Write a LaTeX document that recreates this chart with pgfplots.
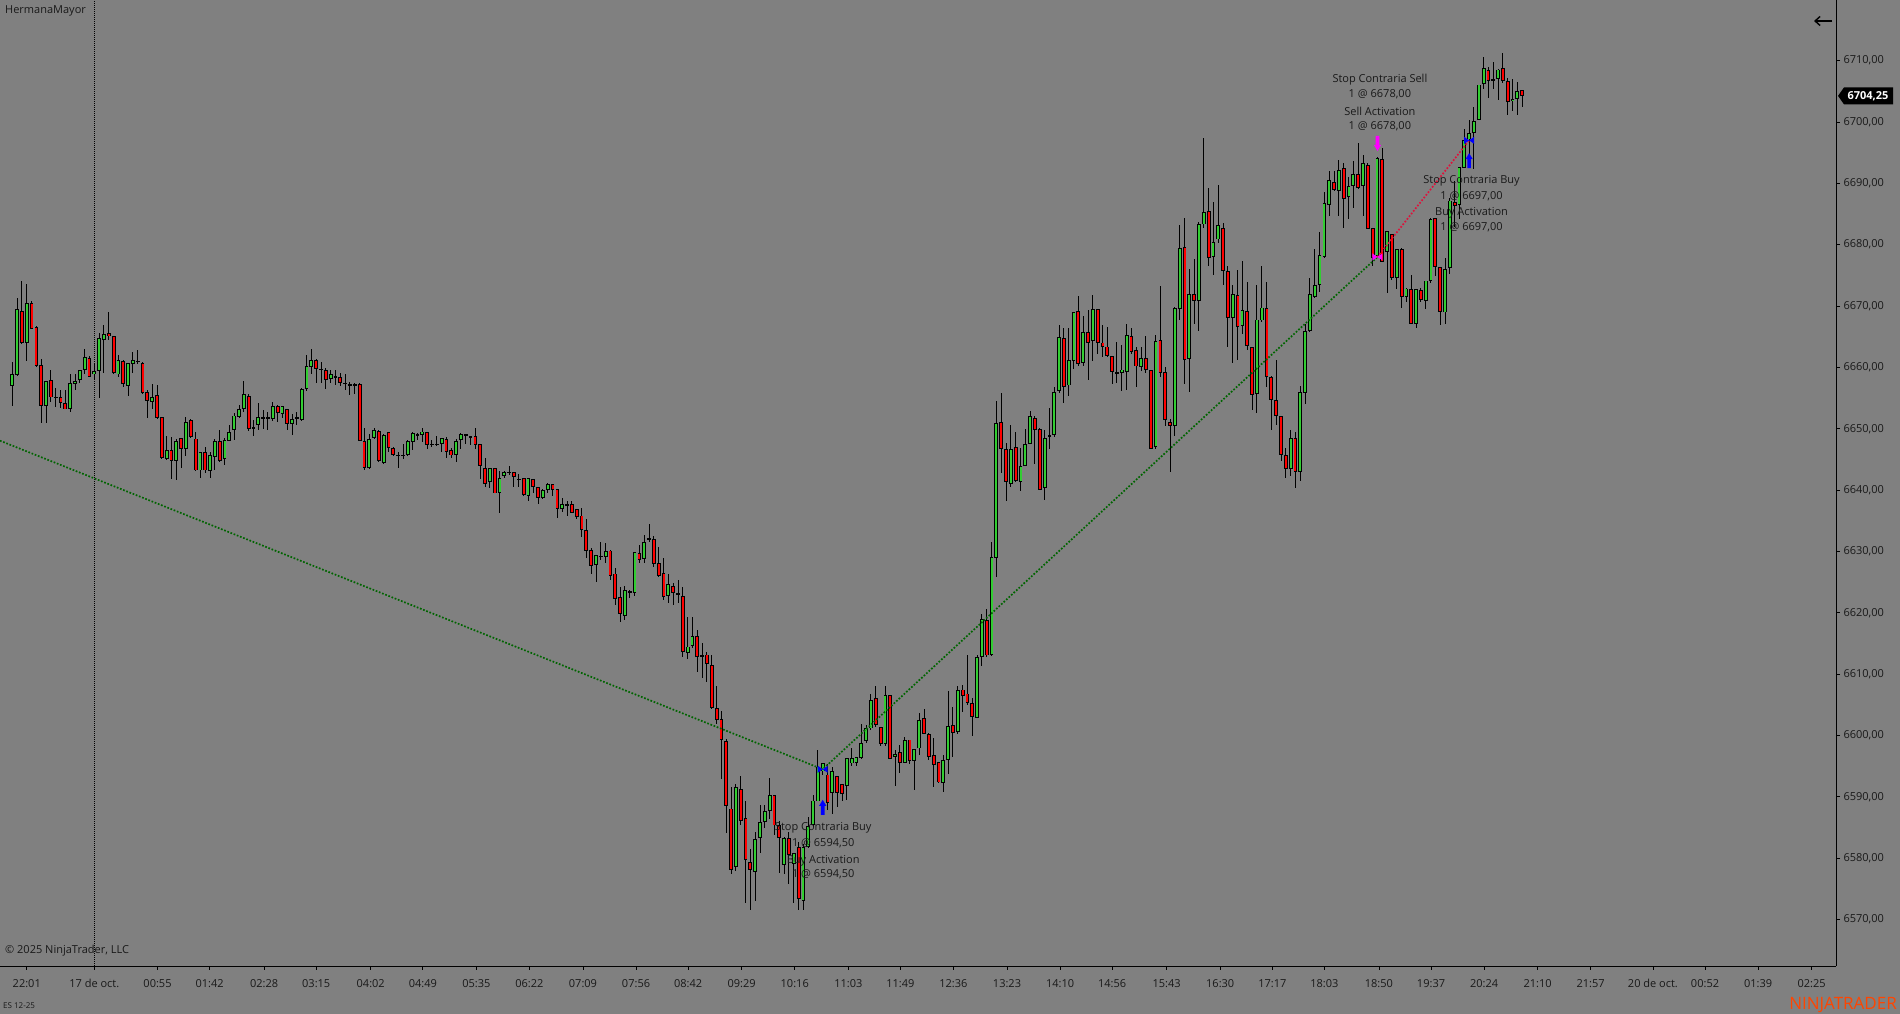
\documentclass[border=0pt]{standalone}
\usepackage{pgfplots}
\usepackage{pgfplotstable}
\pgfplotsset{compat=1.18}
\usepackage{fontspec}
\setmainfont{Open Sans}
\usetikzlibrary{arrows.meta}
\definecolor{bg}{RGB}{128,128,128}
\definecolor{upc}{RGB}{50,205,50}
\definecolor{dnc}{RGB}{255,0,0}
\definecolor{trgreen}{RGB}{0,100,0}
\definecolor{trred}{RGB}{220,20,60}
\definecolor{txt}{RGB}{25,25,25}
\definecolor{ntorange}{RGB}{255,69,0}
\definecolor{mag}{RGB}{255,0,255}
\pgfdeclareplotmark{bowtie}{%
 \pgfpathmoveto{\pgfqpoint{-5pt}{3.5pt}}\pgfpathlineto{\pgfqpoint{0pt}{0pt}}\pgfpathlineto{\pgfqpoint{-5pt}{-3.5pt}}\pgfpathclose
 \pgfpathmoveto{\pgfqpoint{5pt}{3.5pt}}\pgfpathlineto{\pgfqpoint{0pt}{0pt}}\pgfpathlineto{\pgfqpoint{5pt}{-3.5pt}}\pgfpathclose
 \pgfusepathqfill}
\pgfdeclareplotmark{arrup}{%
 \pgfpathmoveto{\pgfqpoint{0pt}{7.5pt}}\pgfpathlineto{\pgfqpoint{3.6pt}{1.5pt}}\pgfpathlineto{\pgfqpoint{1.8pt}{1.5pt}}
 \pgfpathlineto{\pgfqpoint{1.8pt}{-7.5pt}}\pgfpathlineto{\pgfqpoint{-1.8pt}{-7.5pt}}\pgfpathlineto{\pgfqpoint{-1.8pt}{1.5pt}}
 \pgfpathlineto{\pgfqpoint{-3.6pt}{1.5pt}}\pgfpathclose\pgfusepathqfill}
\pgfdeclareplotmark{arrdn}{%
 \pgfpathmoveto{\pgfqpoint{0pt}{-7.5pt}}\pgfpathlineto{\pgfqpoint{3.6pt}{-1.5pt}}\pgfpathlineto{\pgfqpoint{1.8pt}{-1.5pt}}
 \pgfpathlineto{\pgfqpoint{1.8pt}{7.5pt}}\pgfpathlineto{\pgfqpoint{-1.8pt}{7.5pt}}\pgfpathlineto{\pgfqpoint{-1.8pt}{-1.5pt}}
 \pgfpathlineto{\pgfqpoint{-3.6pt}{-1.5pt}}\pgfpathclose\pgfusepathqfill}
\pgfplotstableread{
i o h l c
0 6656.9 6661.0 6653.8 6658.9
1 6658.9 6671.3 6658.6 6669.6
2 6669.3 6674.2 6663.9 6664.1
3 6664.1 6673.7 6661.1 6670.6
4 6670.6 6670.8 6666.3 6666.3
5 6666.7 6666.7 6660.1 6660.3
6 6660.3 6661.5 6651.1 6653.6
7 6653.8 6657.9 6651.1 6657.9
8 6657.9 6659.6 6654.4 6655.1
9 6655.2 6656.7 6653.7 6655.2
10 6655.2 6656.4 6653.5 6654.3
11 6654.3 6656.3 6653.2 6653.2
12 6653.2 6659.0 6652.8 6657.4
13 6657.4 6658.9 6656.3 6657.9
14 6658.1 6659.7 6657.5 6659.7
15 6659.7 6663.0 6658.9 6661.8
16 6661.6 6661.9 6658.5 6658.5
17 6658.9 6660.6 6658.0 6659.4
18 6659.4 6665.6 6655.1 6664.9
19 6664.6 6667.1 6659.3 6665.6
20 6665.6 6669.1 6664.6 6665.1
21 6665.1 6665.1 6658.9 6659.2
22 6658.9 6662.0 6658.5 6661.2
23 6661.2 6661.2 6656.7 6657.4
24 6656.9 6660.7 6655.5 6660.7
25 6660.7 6662.5 6659.1 6661.3
26 6661.2 6662.8 6660.6 6661.2
27 6660.8 6660.8 6655.6 6655.9
28 6656.0 6656.3 6651.8 6654.6
29 6654.3 6657.3 6653.3 6655.1
30 6655.5 6657.3 6651.7 6651.8
31 6651.9 6651.9 6645.1 6645.3
32 6645.1 6648.9 6644.9 6646.6
33 6646.6 6648.6 6641.8 6644.8
34 6644.9 6648.5 6641.8 6648.2
35 6648.5 6648.5 6643.7 6646.8
36 6646.8 6652.0 6645.7 6651.2
37 6651.4 6651.7 6648.6 6648.6
38 6648.5 6649.5 6643.1 6643.3
39 6643.3 6646.3 6642.1 6646.3
40 6646.3 6647.0 6642.9 6643.3
41 6643.3 6646.3 6642.0 6645.8
42 6645.6 6648.5 6643.3 6648.1
43 6648.1 6649.8 6644.6 6644.8
44 6645.1 6648.5 6644.2 6648.1
45 6648.1 6650.8 6648.1 6649.6
46 6649.9 6652.7 6648.3 6652.2
47 6651.9 6654.0 6651.8 6653.2
48 6653.2 6657.9 6652.8 6655.6
49 6655.5 6655.8 6649.8 6650.1
50 6650.3 6651.5 6648.8 6650.3
51 6650.6 6654.3 6650.0 6651.9
52 6651.8 6653.2 6650.0 6651.8
53 6651.8 6652.8 6649.9 6651.8
54 6651.7 6654.5 6651.3 6653.8
55 6653.8 6654.0 6651.1 6652.7
56 6652.4 6653.7 6651.9 6653.7
57 6653.3 6653.3 6649.9 6650.9
58 6650.9 6652.4 6649.1 6651.7
59 6651.8 6652.7 6650.6 6651.8
60 6651.4 6656.6 6651.2 6656.4
61 6656.5 6662.1 6656.1 6660.2
62 6660.2 6663.0 6658.9 6661.3
63 6661.3 6661.5 6657.5 6659.9
64 6659.7 6660.9 6657.5 6659.7
65 6659.7 6660.0 6656.5 6658.1
66 6658.1 6659.7 6657.5 6658.9
67 6658.5 6659.7 6657.2 6658.5
68 6658.4 6659.2 6657.0 6657.4
69 6657.5 6659.0 6656.4 6657.5
70 6657.4 6657.7 6655.6 6657.1
71 6657.1 6657.4 6655.6 6657.4
72 6657.4 6657.4 6648.0 6648.1
73 6648.1 6650.2 6643.5 6643.7
74 6643.7 6649.1 6643.5 6648.4
75 6648.6 6650.2 6648.3 6649.9
76 6649.6 6649.9 6644.6 6644.8
77 6644.6 6649.3 6644.4 6649.1
78 6649.4 6649.4 6646.2 6646.8
79 6646.8 6647.0 6645.6 6645.8
80 6645.8 6646.2 6643.7 6645.8
81 6645.8 6647.5 6645.2 6645.8
82 6645.8 6648.3 6645.7 6648.0
83 6648.0 6649.4 6646.6 6649.4
84 6649.1 6649.4 6648.3 6649.1
85 6649.1 6650.2 6648.0 6649.6
86 6649.6 6649.7 6646.8 6647.5
87 6647.6 6648.3 6647.1 6647.6
88 6647.5 6648.8 6647.1 6647.5
89 6647.5 6648.6 6646.3 6648.6
90 6648.4 6648.6 6645.2 6646.3
91 6646.7 6647.0 6645.4 6645.8
92 6645.8 6648.3 6644.6 6648.1
93 6648.1 6649.3 6646.7 6649.1
94 6649.1 6649.1 6647.5 6649.1
95 6648.8 6648.9 6647.5 6648.8
96 6648.9 6650.2 6646.9 6647.5
97 6647.5 6647.5 6641.9 6643.9
98 6643.7 6645.3 6640.6 6641.1
99 6641.4 6643.6 6640.4 6643.6
100 6643.7 6643.7 6639.6 6639.6
101 6639.6 6643.2 6636.3 6642.0
102 6642.4 6643.3 6642.2 6643.1
103 6643.0 6644.0 6642.5 6643.0
104 6643.0 6643.0 6640.6 6642.2
105 6641.9 6642.7 6640.6 6641.9
106 6642.1 6642.1 6639.1 6639.3
107 6639.1 6641.9 6638.3 6641.9
108 6641.9 6641.9 6639.6 6640.6
109 6640.5 6640.5 6637.7 6638.7
110 6638.8 6640.3 6638.7 6640.1
111 6640.0 6641.3 6639.6 6641.0
112 6641.0 6641.0 6639.1 6640.0
113 6640.1 6640.1 6635.6 6636.9
114 6636.9 6638.7 6636.5 6637.7
115 6637.7 6638.2 6635.9 6637.7
116 6637.8 6638.2 6636.4 6636.4
117 6636.9 6636.9 6635.4 6635.6
118 6635.9 6637.2 6632.4 6633.6
119 6633.6 6635.4 6629.0 6630.1
120 6630.2 6630.7 6626.4 6627.6
121 6627.9 6629.5 6625.1 6629.4
122 6629.3 6631.6 6628.7 6629.3
123 6629.2 6631.5 6628.3 6630.2
124 6630.2 6630.3 6625.5 6626.1
125 6626.4 6627.4 6621.4 6622.2
126 6622.7 6624.3 6618.6 6619.9
127 6619.6 6624.5 6618.9 6623.7
128 6623.5 6623.8 6622.4 6623.5
129 6623.3 6630.0 6622.8 6629.9
130 6629.9 6631.1 6628.2 6628.7
131 6628.9 6632.8 6628.2 6631.7
132 6631.8 6634.5 6631.7 6632.1
133 6632.1 6632.5 6627.4 6627.9
134 6628.2 6630.7 6625.9 6626.1
135 6626.6 6629.1 6622.2 6622.7
136 6622.7 6626.4 6621.7 6624.7
137 6624.5 6624.8 6621.2 6623.4
138 6623.2 6625.5 6621.7 6623.2
139 6622.9 6624.3 6612.9 6613.7
140 6613.7 6619.4 6612.6 6614.7
141 6614.7 6619.4 6614.4 6616.3
142 6616.3 6617.3 6610.5 6612.9
143 6612.9 6615.2 6609.5 6613.2
144 6613.2 6613.7 6608.8 6611.6
145 6611.5 6613.2 6604.4 6604.6
146 6604.6 6608.2 6602.1 6602.7
147 6602.7 6604.0 6592.9 6599.2
148 6599.2 6599.6 6584.2 6588.5
149 6588.2 6591.6 6577.4 6578.2
150 6578.6 6592.1 6577.9 6591.7
151 6591.4 6593.5 6585.5 6586.2
152 6586.5 6589.3 6572.7 6579.7
153 6579.5 6581.5 6571.6 6578.2
154 6577.9 6584.4 6573.1 6583.3
155 6583.4 6588.8 6581.0 6585.9
156 6585.9 6588.8 6584.9 6587.7
157 6587.7 6593.2 6586.5 6590.4
158 6590.3 6590.3 6583.9 6585.4
159 6585.4 6586.2 6577.7 6583.3
160 6579.0 6583.5 6577.5 6583.4
161 6583.4 6584.3 6575.9 6580.6
162 6579.0 6580.8 6572.7 6580.8
163 6582.0 6582.7 6571.7 6573.5
164 6573.2 6582.4 6571.6 6582.0
165 6582.0 6586.8 6581.6 6585.4
166 6585.4 6590.4 6585.1 6589.4
167 6589.4 6597.7 6589.3 6595.1
168 6594.2 6595.5 6593.8 6595.5
169 6593.8 6595.5 6588.0 6589.1
170 6590.7 6595.0 6587.3 6594.2
171 6593.4 6593.4 6588.4 6590.7
172 6592.2 6592.2 6589.5 6590.7
173 6591.9 6596.4 6589.6 6596.4
174 6595.5 6598.1 6595.1 6596.4
175 6595.6 6596.6 6595.1 6596.6
176 6596.4 6602.0 6596.3 6598.9
177 6599.2 6601.8 6598.9 6601.3
178 6601.2 6606.9 6601.0 6605.9
179 6606.2 6608.2 6601.5 6601.7
180 6601.5 6601.5 6598.4 6598.7
181 6598.7 6608.3 6598.4 6606.7
182 6606.7 6606.7 6596.4 6596.4
183 6596.6 6597.7 6591.7 6597.1
184 6597.4 6598.6 6594.0 6595.6
185 6595.6 6599.8 6595.6 6599.4
186 6599.4 6599.4 6595.4 6595.9
187 6595.9 6597.9 6591.3 6597.9
188 6597.9 6603.8 6596.9 6602.5
189 6603.0 6604.4 6600.4 6600.4
190 6600.4 6600.5 6596.1 6596.6
191 6596.9 6599.7 6591.8 6595.4
192 6595.6 6595.7 6592.2 6592.3
193 6592.3 6596.9 6590.9 6596.1
194 6596.1 6607.2 6593.8 6601.7
195 6601.7 6604.8 6596.6 6600.4
196 6600.7 6608.2 6600.4 6607.4
197 6607.7 6608.2 6603.8 6606.7
198 6606.9 6613.2 6605.1 6605.4
199 6605.4 6606.1 6599.8 6603.1
200 6603.0 6613.2 6602.8 6612.9
201 6612.9 6619.8 6611.4 6619.1
202 6618.9 6620.6 6612.9 6613.2
203 6613.2 6631.5 6612.9 6629.2
204 6628.9 6654.6 6625.9 6650.9
205 6651.2 6655.8 6642.9 6646.8
206 6646.8 6647.8 6638.3 6641.4
207 6641.1 6650.7 6640.6 6646.8
208 6647.1 6649.4 6641.4 6641.6
209 6641.4 6647.0 6640.0 6643.9
210 6644.0 6649.9 6643.9 6647.6
211 6647.6 6653.0 6647.5 6652.2
212 6651.9 6652.0 6644.2 6649.9
213 6650.1 6650.1 6640.0 6640.1
214 6640.5 6649.9 6638.4 6648.6
215 6648.9 6653.5 6646.8 6648.9
216 6649.1 6656.8 6648.6 6656.1
217 6656.1 6667.0 6655.9 6664.9
218 6664.9 6666.4 6654.3 6656.9
219 6657.1 6666.5 6655.4 6661.2
220 6661.2 6669.1 6659.9 6669.1
221 6669.3 6671.7 6660.3 6660.7
222 6660.8 6668.5 6660.2 6665.9
223 6665.9 6669.5 6658.1 6664.1
224 6664.4 6671.9 6661.2 6669.6
225 6669.6 6669.6 6662.3 6664.1
226 6664.1 6667.0 6661.8 6663.4
227 6663.4 6666.7 6661.8 6661.8
228 6661.8 6661.8 6657.4 6659.2
229 6659.2 6664.2 6657.4 6659.2
230 6659.2 6663.6 6656.1 6659.7
231 6659.4 6667.2 6656.4 6665.4
232 6665.1 6666.4 6662.3 6662.6
233 6662.9 6663.4 6656.9 6660.2
234 6660.2 6663.4 6659.4 6661.6
235 6661.6 6665.2 6659.2 6659.7
236 6659.7 6659.7 6646.8 6646.8
237 6647.1 6665.4 6646.7 6664.4
238 6664.6 6673.2 6658.4 6659.2
239 6659.2 6660.2 6650.6 6651.4
240 6651.2 6651.7 6643.1 6650.6
241 6650.4 6669.9 6648.9 6669.6
242 6669.6 6683.2 6667.7 6679.6
243 6679.6 6684.5 6657.4 6661.2
244 6661.3 6676.1 6656.1 6671.9
245 6672.1 6677.8 6667.2 6670.9
246 6670.9 6683.7 6666.0 6683.3
247 6683.3 6697.5 6682.8 6685.3
248 6685.6 6689.2 6676.6 6677.9
249 6678.1 6687.2 6675.2 6680.5
250 6680.9 6689.7 6680.4 6683.2
251 6682.8 6683.5 6673.5 6675.8
252 6675.8 6676.5 6663.4 6668.2
253 6668.2 6673.4 6660.7 6672.1
254 6671.9 6676.0 6661.3 6666.7
255 6666.7 6677.5 6665.6 6669.3
256 6669.3 6674.0 6663.0 6663.6
257 6663.4 6663.4 6653.2 6655.6
258 6655.6 6673.7 6652.7 6667.8
259 6667.7 6676.6 6667.5 6669.8
260 6669.8 6674.0 6656.9 6658.6
261 6658.6 6658.6 6649.9 6654.8
262 6654.8 6661.2 6650.6 6652.2
263 6652.2 6652.2 6644.9 6645.8
264 6645.8 6647.0 6642.0 6643.5
265 6643.5 6650.0 6642.5 6648.5
266 6648.5 6649.5 6640.5 6643.0
267 6643.0 6657.0 6641.5 6656.0
268 6656.0 6667.0 6654.0 6666.0
269 6665.9 6674.7 6665.9 6671.9
270 6671.6 6679.3 6671.3 6673.5
271 6673.5 6682.2 6672.4 6678.4
272 6678.1 6688.7 6677.9 6686.9
273 6686.6 6692.1 6684.8 6690.6
274 6690.3 6692.1 6688.9 6689.0
275 6688.9 6693.9 6684.8 6692.3
276 6692.6 6693.3 6682.7 6687.6
277 6687.9 6691.1 6684.3 6689.7
278 6689.7 6693.7 6686.1 6691.6
279 6691.6 6696.7 6689.2 6689.3
280 6689.7 6694.7 6684.8 6693.4
281 6693.1 6693.4 6682.7 6682.7
282 6682.7 6682.7 6676.6 6677.9
283 6678.1 6694.4 6678.1 6694.1
284 6694.1 6695.7 6677.1 6677.3
285 6678.9 6682.2 6672.2 6682.2
286 6681.9 6681.9 6674.4 6674.7
287 6674.7 6679.4 6672.9 6679.4
288 6679.4 6679.4 6669.6 6671.6
289 6671.6 6672.9 6670.6 6672.9
290 6672.9 6675.2 6667.2 6667.2
291 6667.2 6672.9 6666.4 6672.9
292 6672.6 6673.0 6670.7 6670.9
293 6670.9 6674.2 6669.6 6674.2
294 6674.2 6684.3 6673.7 6684.3
295 6684.3 6684.3 6675.0 6676.3
296 6676.3 6676.3 6667.0 6669.1
297 6669.1 6677.8 6667.0 6676.2
298 6676.2 6687.6 6675.2 6687.2
299 6687.0 6690.3 6682.9 6686.4
300 6686.4 6692.6 6684.3 6692.6
301 6692.6 6699.0 6692.6 6697.2
302 6697.2 6700.3 6694.2 6698.3
303 6698.3 6702.5 6692.3 6700.3
304 6700.3 6706.1 6700.3 6706.1
305 6706.3 6710.7 6705.5 6708.9
306 6708.6 6708.9 6703.9 6706.8
307 6706.8 6709.7 6705.3 6707.1
308 6707.1 6708.7 6703.5 6708.6
309 6708.9 6711.3 6706.5 6706.8
310 6706.8 6707.1 6701.1 6703.4
311 6703.5 6707.1 6701.9 6703.9
312 6703.9 6706.5 6701.1 6705.2
313 6705.2 6705.2 6702.5 6704.25
}\bars
\begin{document}
\begin{tikzpicture}[x=1pt,y=1pt]
\useasboundingbox (0,0) rectangle (1900,1014);
\fill[bg] (0,0) rectangle (1900,1014);
\begin{axis}[
  at={(0pt,48pt)}, anchor=south west, scale only axis,
  width=1836pt, height=966pt,
  xmin=-2.55, xmax=378.05, ymin=6562.44, ymax=6719.88,
  axis x line*=bottom, axis y line*=right,
  axis line style={black, line width=0.8pt},
  tick align=outside, major tick length=4pt,
  tick style={black, line width=0.8pt},
  xtick={3,17,30.1,40.9,52.2,63.0,74.3,85.1,96.2,107.2,118.3,129.3,140.1,151.2,162.2,173.3,184.1,195.1,206.2,217.2,228.0,239.3,250.4,261.2,272.0,283.3,294.1,305.1,316.2,327.2,340.1,350.9,361.9,373.0},
  xticklabels={22:01,17 de oct.,00:55,01:42,02:28,03:15,04:02,04:49,05:35,06:22,07:09,07:56,08:42,09:29,10:16,11:03,11:49,12:36,13:23,14:10,14:56,15:43,16:30,17:17,18:03,18:50,19:37,20:24,21:10,21:57,20 de oct.,00:52,01:39,02:25},
  x tick label style={font=\fontsize{11}{13}\selectfont, text=txt, yshift=-6pt},
  ytick={6570,6580,...,6710},
  scaled y ticks=false,
  y tick label style={font=\fontsize{11}{13}\selectfont, text=txt,
    /pgf/number format/fixed, /pgf/number format/fixed zerofill,
    /pgf/number format/precision=2, /pgf/number format/use comma,
    /pgf/number format/1000 sep={}, /pgf/number format/assume math mode=true},
]
% day separator
\addplot[black, line width=0.8pt, dash pattern=on 1pt off 1pt, forget plot] coordinates {(17,6562.44) (17,6719.88)};
% wicks
\addplot[draw=none, mark=none, forget plot, error bars/.cd, y dir=both, y explicit, error mark=none,
  error bar style={draw=black, line width=1pt}]
  table[x=i, y expr={(\thisrow{h}+\thisrow{l})/2}, y error expr={(\thisrow{h}-\thisrow{l})/2}] {\bars};
% body outlines
\addplot[draw=none, mark=none, forget plot, error bars/.cd, y dir=both, y explicit, error mark=none,
  error bar style={draw=black, line width=3.8pt}]
  table[x=i, y expr={(\thisrow{o}+\thisrow{c})/2}, y error expr={max(abs(\thisrow{c}-\thisrow{o})/2,0.085)}] {\bars};
% up bodies
\addplot[draw=none, mark=none, forget plot, restrict y to domain=6000:7000, error bars/.cd, y dir=both, y explicit, error mark=none,
  error bar style={draw=upc, line width=2pt}]
  table[x=i, y expr={(\thisrow{c}>\thisrow{o}) ? (\thisrow{o}+\thisrow{c})/2 : 0}, y error expr={max(abs(\thisrow{c}-\thisrow{o})/2-0.15,0)}] {\bars};
% down bodies
\addplot[draw=none, mark=none, forget plot, restrict y to domain=6000:7000, error bars/.cd, y dir=both, y explicit, error mark=none,
  error bar style={draw=dnc, line width=2pt}]
  table[x=i, y expr={(\thisrow{c}<\thisrow{o}) ? (\thisrow{o}+\thisrow{c})/2 : 0}, y error expr={max(abs(\thisrow{c}-\thisrow{o})/2-0.15,0)}] {\bars};
% trade lines
\addplot[trgreen, line width=1.7pt, dash pattern=on 1.7pt off 1.7pt, forget plot] coordinates {(-2.55,6648.05) (168,6594.5) (283,6678)};
\addplot[trred, line width=1.7pt, dash pattern=on 1.7pt off 1.7pt, forget plot] coordinates {(283,6678) (302,6697)};
% execution markers
\addplot[only marks, blue, mark=bowtie, forget plot] coordinates {(168,6594.5) (302,6697)};
\addplot[only marks, mag, mark=bowtie, forget plot] coordinates {(283,6678)};
\addplot[only marks, blue, mark=arrup, forget plot] coordinates {(168,6588.3) (302,6693.7)};
\addplot[only marks, mag, mark=arrdn, forget plot] coordinates {(283,6696.5)};
% annotations
\begin{scope}[every node/.style={font=\fontsize{11}{13}\selectfont, text=txt, inner sep=0pt}]
\node at (axis cs:283.5,6706.9) {Stop Contraria Sell};
\node at (axis cs:283.5,6704.55) {1 @ 6678,00};
\node at (axis cs:283.5,6701.75) {Sell Activation};
\node at (axis cs:283.5,6699.35) {1 @ 6678,00};
\node at (axis cs:302.5,6690.35) {Stop Contraria Buy};
\node at (axis cs:302.5,6687.95) {1 @ 6697,00};
\node at (axis cs:302.5,6685.15) {Buy Activation};
\node at (axis cs:302.5,6682.85) {1 @ 6697,00};
\node at (axis cs:168.1,6584.9) {Stop Contraria Buy};
\node at (axis cs:168.1,6582.45) {1 @ 6594,50};
\node at (axis cs:168.1,6579.65) {Buy Activation};
\node at (axis cs:168.1,6577.45) {1 @ 6594,50};
\end{scope}
\end{axis}
% overlays
\node[anchor=west, font=\fontsize{11}{13}\selectfont, text=txt, inner sep=0pt] at (5,1003) {HermanaMayor};
\node[anchor=west, font=\fontsize{11}{13}\selectfont, text=txt, inner sep=0pt] at (5,63) {© 2025 NinjaTrader, LLC};
\node[anchor=west, font=\fontsize{8}{9}\selectfont, text=txt, inner sep=0pt] at (3,8) {ES 12-25};
\node[anchor=east, font=\fontsize{17}{19}\selectfont, text=ntorange, inner sep=0pt] at (1897,9) {NINJATRADER};
\draw[-{Straight Barb[length=5pt,width=9pt]}, line width=1.4pt, black] (1832,993) -- (1814,993);
\fill[black] (1838,918.1) -- (1844,926.6) -- (1893,926.6) -- (1893,909.6) -- (1844,909.6) -- cycle;
\node[font=\fontsize{11}{13}\selectfont\bfseries, text=white, inner sep=0pt] at (1868,918.1) {6704,25};
\end{tikzpicture}
\end{document}
